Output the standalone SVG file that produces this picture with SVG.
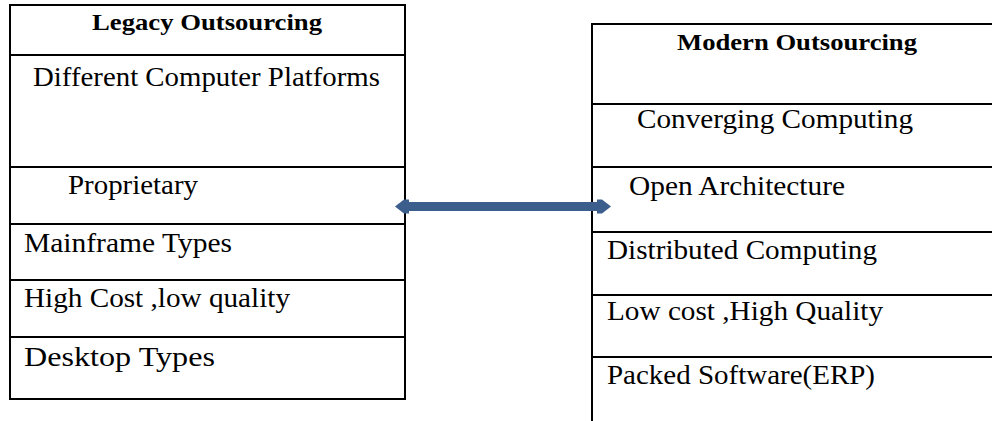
<svg xmlns="http://www.w3.org/2000/svg" width="992" height="421" viewBox="0 0 992 421">
  <style>
    .rule { stroke: #000; stroke-width: 2; fill: none; }
    .title { font-family: "Liberation Serif", "Times New Roman", serif; font-weight: bold; font-size: 23px; fill: #000; }
    .item { font-family: "Liberation Serif", "Times New Roman", serif; font-size: 28px; fill: #000; }
    .link { stroke: #3B5E8C; stroke-width: 9; fill: none; }
  </style>
  <defs>
    <marker id="head" markerUnits="userSpaceOnUse" viewBox="-6 -8 14 16" refX="0" refY="0" markerWidth="14" markerHeight="16" orient="auto-start-reverse">
      <path d="M-6,-7 L-1,-7 L8,0 L-1,7 L-6,7 Z" fill="#3B5E8C"/>
    </marker>
  </defs>
  <rect width="992" height="421" fill="#fff"/>

  <!-- Legacy column -->
  <g id="legacy">
    <rect class="rule" x="10" y="5" width="395" height="394"/>
    <line class="rule" x1="10" y1="55" x2="405" y2="55"/>
    <line class="rule" x1="10" y1="167" x2="405" y2="167"/>
    <line class="rule" x1="10" y1="224" x2="405" y2="224"/>
    <line class="rule" x1="10" y1="280" x2="405" y2="280"/>
    <line class="rule" x1="10" y1="337" x2="405" y2="337"/>
    <text class="title" x="92" y="30" textLength="230" lengthAdjust="spacingAndGlyphs">Legacy Outsourcing</text>
    <text class="item" x="33" y="86" font-size="29" textLength="347" lengthAdjust="spacingAndGlyphs">Different Computer Platforms</text>
    <text class="item" x="68" y="194" textLength="130" lengthAdjust="spacingAndGlyphs">Proprietary</text>
    <text class="item" x="24" y="252" textLength="208" lengthAdjust="spacingAndGlyphs">Mainframe Types</text>
    <text class="item" x="24" y="307" textLength="266" lengthAdjust="spacingAndGlyphs">High Cost ,low quality</text>
    <text class="item" x="24" y="366" font-size="30" textLength="191" lengthAdjust="spacingAndGlyphs">Desktop Types</text>
  </g>

  <!-- Modern column (runs off the right edge) -->
  <g id="modern">
    <line class="rule" x1="592" y1="24" x2="592" y2="421"/>
    <line class="rule" x1="591" y1="24" x2="992" y2="24"/>
    <line class="rule" x1="592" y1="104" x2="992" y2="104"/>
    <line class="rule" x1="592" y1="167" x2="992" y2="167"/>
    <line class="rule" x1="592" y1="232" x2="992" y2="232"/>
    <line class="rule" x1="592" y1="295" x2="992" y2="295"/>
    <line class="rule" x1="592" y1="357" x2="992" y2="357"/>
    <text class="title" x="677" y="50" textLength="240" lengthAdjust="spacingAndGlyphs">Modern Outsourcing</text>
    <text class="item" x="637" y="128" textLength="276" lengthAdjust="spacingAndGlyphs">Converging Computing</text>
    <text class="item" x="629" y="195" textLength="216" lengthAdjust="spacingAndGlyphs">Open Architecture</text>
    <text class="item" x="607" y="259" textLength="270" lengthAdjust="spacingAndGlyphs">Distributed Computing</text>
    <text class="item" x="607" y="320" textLength="276" lengthAdjust="spacingAndGlyphs">Low cost ,High Quality</text>
    <text class="item" x="607" y="384" textLength="268" lengthAdjust="spacingAndGlyphs">Packed Software(ERP)</text>
  </g>

  <!-- Two-way connector between the columns -->
  <g id="connectors">
    <line class="link" x1="403" y1="206.5" x2="603" y2="206.5" marker-start="url(#head)" marker-end="url(#head)"/>
  </g>
</svg>
